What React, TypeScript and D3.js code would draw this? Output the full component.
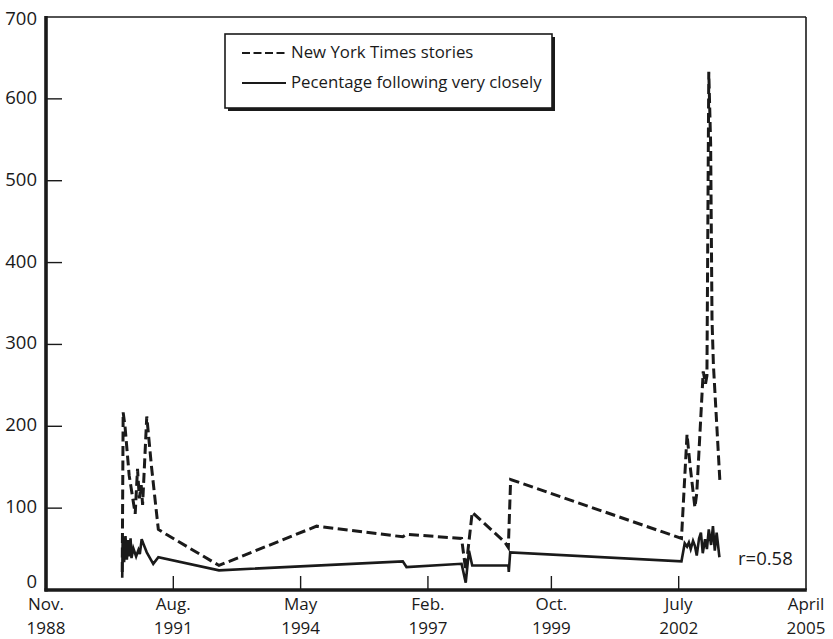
import * as d3 from 'd3';
import { useRef, useEffect } from 'react';

// New York Times stories (dashed), x in decimal years
const storyYears = [
  1990.48, 1990.50, 1990.54, 1990.63, 1990.76, 1990.81, 1990.85, 1990.89, 1990.92,
  1991.01, 1991.11, 1991.19, 1991.26, 1991.43, 1992.57, 1994.68, 1996.54, 1996.62,
  1997.81, 1997.90, 1998.04, 1998.75, 1998.82, 1998.87, 2002.56, 2002.68, 2002.75,
  2002.85, 2002.89, 2003.03, 2003.08, 2003.11, 2003.15, 2003.19, 2003.22, 2003.25, 2003.39,
];
const storyCounts = [
  22, 217, 200, 140, 93, 148, 112, 128, 104,
  212, 152, 110, 74, 68, 30, 78, 65, 68,
  63, 24, 95, 58, 52, 135, 63, 190, 150,
  101, 118, 267, 252, 262, 633, 545, 330, 275, 133,
];

// Percentage following very closely (solid)
const pctYears = [
  1990.48, 1990.49, 1990.52, 1990.55, 1990.58, 1990.61, 1990.63, 1990.66, 1990.68,
  1990.72, 1990.78, 1990.83, 1990.86, 1990.90, 1990.94, 1991.01, 1991.15, 1991.26,
  1992.57, 1996.54, 1996.62, 1997.81, 1997.90, 1997.97, 1998.04, 1998.82, 1998.83,
  1998.86, 2002.56, 2002.63, 2002.68, 2002.72, 2002.76, 2002.81, 2002.85, 2002.89,
  2002.94, 2002.98, 2003.02, 2003.07, 2003.11, 2003.15, 2003.20, 2003.24, 2003.28,
  2003.32, 2003.38,
];
const pctValues = [
  15, 66, 34, 66, 37, 61, 41, 63, 39,
  51, 41, 49, 44, 62, 56, 46, 32, 40,
  24, 35, 28, 32, 9, 48, 30, 30, 22,
  46, 35, 57, 53, 58, 50, 60, 54, 42,
  63, 70, 45, 62, 50, 74, 55, 78, 48,
  70, 40,
];

const xTickYears = [1988 + 10 / 12, 1991 + 7 / 12, 1994 + 4 / 12, 1997 + 1 / 12, 1999 + 9 / 12, 2002 + 6 / 12, 2005 + 3 / 12];
const xTickMonths = ['Nov.', 'Aug.', 'May', 'Feb.', 'Oct.', 'July', 'April'];
const xTickYearLabels = ['1988', '1991', '1994', '1997', '1999', '2002', '2005'];
const yTicks = [0, 100, 200, 300, 400, 500, 600, 700];

const legendLabels = ['New York Times stories', 'Pecentage following very closely'];
const correlationLabel = 'r=0.58';

const App = () => {
  const svgRef = useRef<SVGSVGElement | null>(null);

  useEffect(() => {
    const width = 833;
    const height = 639;
    const left = 46, right = 806, top = 17, bottom = 590;
    const ink = '#1a1a1a';
    const font = '"Open Sans", "Noto Sans", sans-serif';

    const svg = d3.select(svgRef.current);
    svg.selectAll('*').remove();
    svg.attr('width', width).attr('height', height);

    svg.append('rect').attr('width', width).attr('height', height).attr('fill', '#fff');

    const x = d3.scaleLinear().domain([xTickYears[0], xTickYears[xTickYears.length - 1]]).range([left, right]);
    const y = d3.scaleLinear().domain([0, 700]).range([bottom, top]);

    // frame: thin top/right, thick left/bottom
    svg.append('line').attr('x1', left).attr('x2', right).attr('y1', top).attr('y2', top)
      .attr('stroke', ink).attr('stroke-width', 1.6);
    svg.append('line').attr('x1', right).attr('x2', right).attr('y1', top).attr('y2', bottom)
      .attr('stroke', ink).attr('stroke-width', 1.6);

    // y ticks (inward)
    svg.append('g').selectAll('line')
      .data(yTicks.filter(d => d > 0 && d < 700))
      .enter().append('line')
      .attr('x1', left).attr('x2', left + 16)
      .attr('y1', d => y(d)).attr('y2', d => y(d))
      .attr('stroke', ink).attr('stroke-width', 1.4);

    svg.append('g').selectAll('text')
      .data(yTicks)
      .enter().append('text')
      .attr('x', 37)
      .attr('y', d => d === 0 ? y(d) - 7 : d === 700 ? y(d) + 3 : y(d))
      .attr('text-anchor', 'end')
      .attr('dominant-baseline', 'middle')
      .attr('font-family', font).attr('font-size', 18.5).attr('fill', ink)
      .text(d => d);

    // x ticks (inward)
    svg.append('g').selectAll('line')
      .data(xTickYears.slice(1, -1))
      .enter().append('line')
      .attr('x1', d => x(d)).attr('x2', d => x(d))
      .attr('y1', bottom).attr('y2', bottom - 14)
      .attr('stroke', ink).attr('stroke-width', 1.4);

    // two-line date labels, one text element per line
    svg.append('g').selectAll('text')
      .data(xTickYears)
      .enter().append('text')
      .attr('x', d => x(d)).attr('y', 610)
      .attr('text-anchor', 'middle')
      .attr('font-family', font).attr('font-size', 17).attr('fill', ink)
      .text((_, i) => xTickMonths[i]);
    svg.append('g').selectAll('text')
      .data(xTickYears)
      .enter().append('text')
      .attr('x', d => x(d)).attr('y', 633.5)
      .attr('text-anchor', 'middle')
      .attr('font-family', font).attr('font-size', 17).attr('fill', ink)
      .text((_, i) => xTickYearLabels[i]);

    // series
    const line = d3.line<[number, number]>().x(d => x(d[0])).y(d => y(d[1]));
    const stories = storyYears.map((yr, i) => [yr, storyCounts[i]] as [number, number]);
    const pct = pctYears.map((yr, i) => [yr, pctValues[i]] as [number, number]);

    svg.append('path').datum(pct)
      .attr('d', line)
      .attr('fill', 'none').attr('stroke', ink).attr('stroke-width', 2.6);

    svg.append('path').datum(stories)
      .attr('d', line)
      .attr('fill', 'none').attr('stroke', ink).attr('stroke-width', 3)
      .attr('stroke-dasharray', '10,4.5');

    // thick left and bottom axes on top
    svg.append('line').attr('x1', left).attr('x2', left).attr('y1', top - 1).attr('y2', bottom + 1.5)
      .attr('stroke', ink).attr('stroke-width', 3.6);
    svg.append('line').attr('x1', left - 1.5).attr('x2', right + 0.8).attr('y1', bottom).attr('y2', bottom)
      .attr('stroke', ink).attr('stroke-width', 3.4);

    // legend
    const lg = svg.append('g').attr('transform', 'translate(225,34)');
    lg.append('rect').attr('x', 3).attr('y', 3).attr('width', 327).attr('height', 74).attr('fill', ink);
    lg.append('rect').attr('x', 0).attr('y', 0).attr('width', 327).attr('height', 74)
      .attr('fill', '#fff').attr('stroke', ink).attr('stroke-width', 1.6);

    const rows = [19, 49];
    lg.append('line').attr('x1', 17).attr('x2', 61).attr('y1', rows[0]).attr('y2', rows[0])
      .attr('stroke', ink).attr('stroke-width', 2).attr('stroke-dasharray', '8,3.5');
    lg.append('line').attr('x1', 17).attr('x2', 61).attr('y1', rows[1]).attr('y2', rows[1])
      .attr('stroke', ink).attr('stroke-width', 2);
    lg.selectAll('text.lbl')
      .data(legendLabels)
      .enter().append('text')
      .attr('class', 'lbl')
      .attr('x', 66)
      .attr('y', (_, i) => rows[i])
      .attr('dominant-baseline', 'middle')
      .attr('font-family', font).attr('font-size', 16.8).attr('fill', ink)
      .text(d => d);

    svg.append('text')
      .attr('x', 738).attr('y', 560)
      .attr('dominant-baseline', 'middle')
      .attr('font-family', font).attr('font-size', 18.5).attr('fill', ink)
      .text(correlationLabel);
  }, []);

  return (
    <svg ref={svgRef} style={{ position: 'absolute', left: 0, top: 0 }}></svg>
  );
};

export default App;
